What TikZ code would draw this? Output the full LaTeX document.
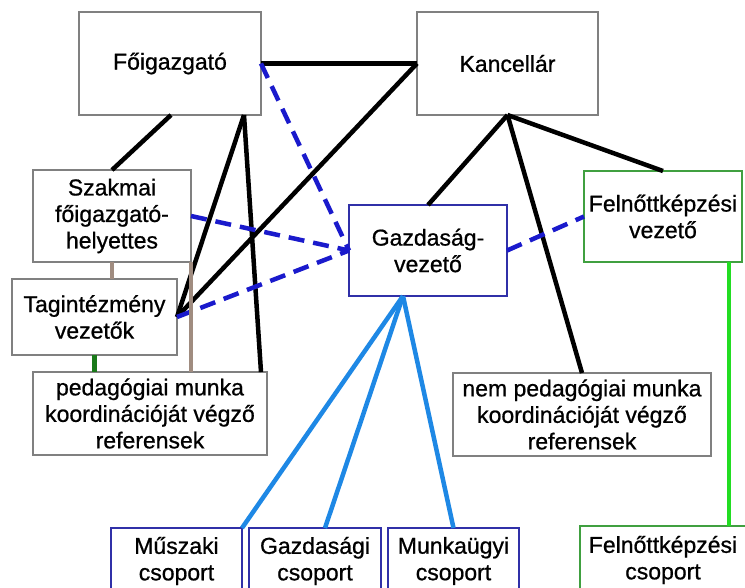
\documentclass[tikz,border=0pt]{standalone}
\usepackage{fontspec}
\setmainfont{Liberation Sans}
\newfontfamily\boxfont[FakeBold=0.8]{Liberation Sans}
\usetikzlibrary{calc}
\definecolor{boxgray}{HTML}{808080}
\definecolor{boxblue}{HTML}{3030A8}
\definecolor{boxgreen}{HTML}{40A040}
\definecolor{dashblue}{HTML}{1A1ACC}
\definecolor{lightblue}{HTML}{1E88E5}
\definecolor{brightgreen}{HTML}{22DD22}
\definecolor{brownline}{HTML}{A08C80}
\definecolor{darkgreen}{HTML}{1A7A1A}
\tikzset{
  box/.style={draw=boxgray, line width=1.3pt, fill=white, inner sep=0pt, outer sep=0pt,
    align=center, font=\boxfont\fontsize{23}{26.5}\selectfont},
  bluebox/.style={box, draw=boxblue},
  greenbox/.style={box, draw=boxgreen},
  blackline/.style={line width=4.5pt, black},
  dashline/.style={line width=4.5pt, dashblue, dash pattern=on 16pt off 9pt},
  lbline/.style={line width=4.5pt, lightblue},
  gline/.style={line width=4.5pt, brightgreen},
  brline/.style={line width=4.5pt, brownline},
  dgline/.style={line width=4.5pt, darkgreen}
}
\begin{document}
\begin{tikzpicture}[x=1pt,y=-1pt]
\useasboundingbox[fill=white] (0,0) rectangle (745,587);
\begin{scope}
\clip (0,0) rectangle (745,587);
% nodes
\node[box, minimum width=182pt, minimum height=103pt] (fo) at (170,63.5) {Főigazgató};
\node[box, minimum width=181pt, minimum height=103pt] (ka) at (507.5,63.5) {Kancellár};
\node[box, minimum width=158pt, minimum height=92pt] (sz) at (112,216) {Szakmai\\főigazgató-\\helyettes};
\node[box, minimum width=165pt, minimum height=76pt] (ta) at (94.5,317) {Tagintézmény\\vezetők};
\node[box, minimum width=234pt, minimum height=83pt] (pe) at (150,413.5) {pedagógiai munka\\koordinációját végző\\referensek};
\node[bluebox, minimum width=158pt, minimum height=91pt] (gv) at (428,250.5) {Gazdaság-\\vezető};
\node[greenbox, minimum width=158pt, minimum height=91pt] (fv) at (663,216.5) {Felnőttképzési\\vezető};
\node[box, minimum width=258pt, minimum height=83pt] (np) at (582,414.5) {nem pedagógiai munka\\koordinációját végző\\referensek};
\node[bluebox, minimum width=131pt, minimum height=66pt] (mu) at (176.5,561) {Műszaki\\csoport};
\node[bluebox, minimum width=132pt, minimum height=66pt] (ga) at (315,561) {Gazdasági\\csoport};
\node[bluebox, minimum width=131pt, minimum height=66pt] (mk) at (453.5,561) {Munkaügyi\\csoport};
\node[greenbox, minimum width=166pt, minimum height=68pt] (fc) at (663,560) {Felnőttképzési\\csoport};
% black connectors
\draw[blackline] (fo.east) -- (ka.west);
\draw[blackline] (ka.west) -- (ta.east);
\draw[blackline] ([xshift=1pt]fo.south) -- (sz.north);
\draw[blackline] ([xshift=74pt]fo.south) -- (ta.east);
\draw[blackline] ([xshift=74pt]fo.south) -- ([xshift=111pt]pe.north);
\draw[blackline] (ka.south) -- (gv.north);
\draw[blackline] (ka.south) -- (np.north);
\draw[blackline] (ka.south) -- (fv.north);
% blue dashed
\draw[dashline] (fo.east) -- (gv.west);
\draw[dashline] (sz.east) -- (gv.west);
\draw[dashline] (ta.east) -- (gv.west);
\draw[dashline] (gv.east) -- (fv.west);
% brown / green
\draw[brline] (sz.south) -- (sz.south |- ta.north);
\draw[brline] (sz.south east) -- (sz.south east |- pe.north);
\draw[dgline] (ta.south) -- (ta.south |- pe.north);
% light blue
\draw[lbline] ([xshift=-25pt]gv.south) -- (mu.north east);
\draw[lbline] ([xshift=-25pt]gv.south) -- ([xshift=10pt]ga.north);
\draw[lbline] ([xshift=-25pt]gv.south) -- (mk.north);
% bright green
\draw[gline] ([xshift=66pt]fv.south) -- ([xshift=66pt]fv.south |- fc.north);
\end{scope}
\end{tikzpicture}
\end{document}
